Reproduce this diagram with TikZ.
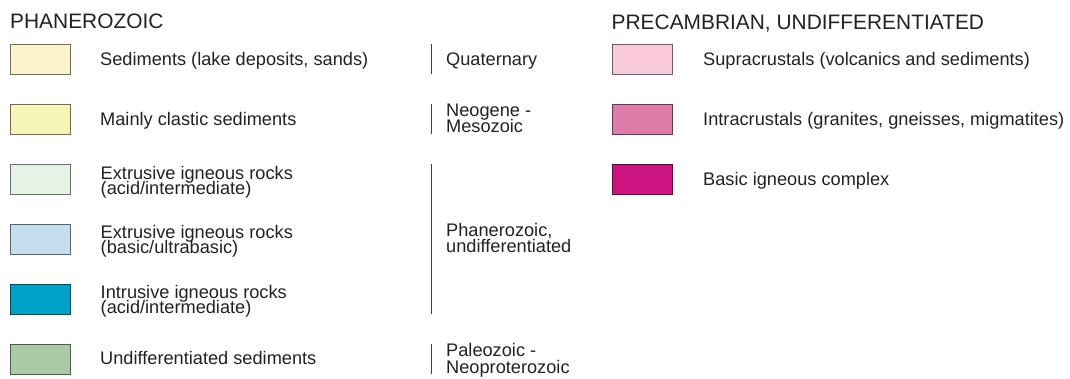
\documentclass[tikz,border=0pt]{standalone}
\usepackage{fontspec}
\setmainfont{Liberation Sans}
\definecolor{txt}{HTML}{222222}
\definecolor{cA}{HTML}{FBF3C9}
\definecolor{cB}{HTML}{F4F5B7}
\definecolor{cC}{HTML}{E7F2E7}
\definecolor{cD}{HTML}{C3DFEE}
\definecolor{cE}{HTML}{00A1C9}
\definecolor{cF}{HTML}{AACBA8}
\definecolor{pA}{HTML}{F9C9DC}
\definecolor{pB}{HTML}{DD7CA8}
\definecolor{pC}{HTML}{CC1580}
\tikzset{
  swatch/.style={fill=#1, draw=#1!45!black, line width=1.1pt, minimum width=60pt, minimum height=30pt, inner sep=0pt, anchor=north west},
  lbl/.style={anchor=base west, inner sep=0pt, text=txt, font=\fontsize{18.2}{15}\selectfont},
  ttl/.style={anchor=base west, inner sep=0pt, text=txt, font=\fontsize{20.9}{24}\selectfont},
  bar/.style={draw=black!75, line width=1.2pt}
}
\begin{document}
\begin{tikzpicture}[x=1pt,y=-1pt]
\useasboundingbox (0,0) rectangle (1070,379);
% titles
\node[ttl] (t1) at (10,29) {PHANEROZOIC};
\node[ttl] (t2) at (611.5,29.3) {PRECAMBRIAN, UNDIFFERENTIATED};
% left swatches
\node[swatch=cA] (b1) at (10,44) {};
\node[swatch=cB] (b2) at (10,104) {};
\node[swatch=cC] (b3) at (10,164) {};
\node[swatch=cD] (b4) at (10,224) {};
\node[swatch=cE] (b5) at (10,284) {};
\node[swatch=cF] (b6) at (10,344) {};
% left labels
\node[lbl] (l1) at (100,65.5) {Sediments (lake deposits, sands)};
\node[lbl] (l2) at (100,126) {Mainly clastic sediments};
\node[lbl] (l3a) at (100.5,179.5) {Extrusive igneous rocks};
\node[lbl] (l3b) at (100.5,194.5) {(acid/intermediate)};
\node[lbl] (l4a) at (100.5,239) {Extrusive igneous rocks};
\node[lbl] (l4b) at (100.5,254) {(basic/ultrabasic)};
\node[lbl] (l5a) at (100.5,298.5) {Intrusive igneous rocks};
\node[lbl] (l5b) at (100.5,313.5) {(acid/intermediate)};
\node[lbl] (l6) at (100,364) {Undifferentiated sediments};
% middle bars
\coordinate (q1) at (431.5,44); \coordinate (q2) at (431.5,74);
\coordinate (n1) at (431.5,104); \coordinate (n2) at (431.5,134);
\coordinate (p1) at (431.5,164); \coordinate (p2) at (431.5,314);
\coordinate (z1) at (431.5,344); \coordinate (z2) at (431.5,374);
\draw[bar] (q1) -- (q2);
\draw[bar] (n1) -- (n2);
\draw[bar] (p1) -- (p2);
\draw[bar] (z1) -- (z2);
% middle labels
\node[lbl] (m1) at (446,65.5) {Quaternary};
\node[lbl] (m2a) at (446,116.5) {Neogene -};
\node[lbl] (m2b) at (446,133) {Mesozoic};
\node[lbl] (m3a) at (446,236.5) {Phanerozoic,};
\node[lbl] (m3b) at (446,253) {undifferentiated};
\node[lbl] (m4a) at (446,356.5) {Paleozoic -};
\node[lbl] (m4b) at (446,373) {Neoproterozoic};
% right swatches
\node[swatch=pA] (r1) at (612,44) {};
\node[swatch=pB] (r2) at (612,104) {};
\node[swatch=pC] (r3) at (612,164) {};
% right labels
\node[lbl] (s1) at (703,65.5) {Supracrustals (volcanics and sediments)};
\node[lbl] (s2) at (703,125.5) {Intracrustals (granites, gneisses, migmatites)};
\node[lbl] (s3) at (703,185.5) {Basic igneous complex};
\end{tikzpicture}
\end{document}
